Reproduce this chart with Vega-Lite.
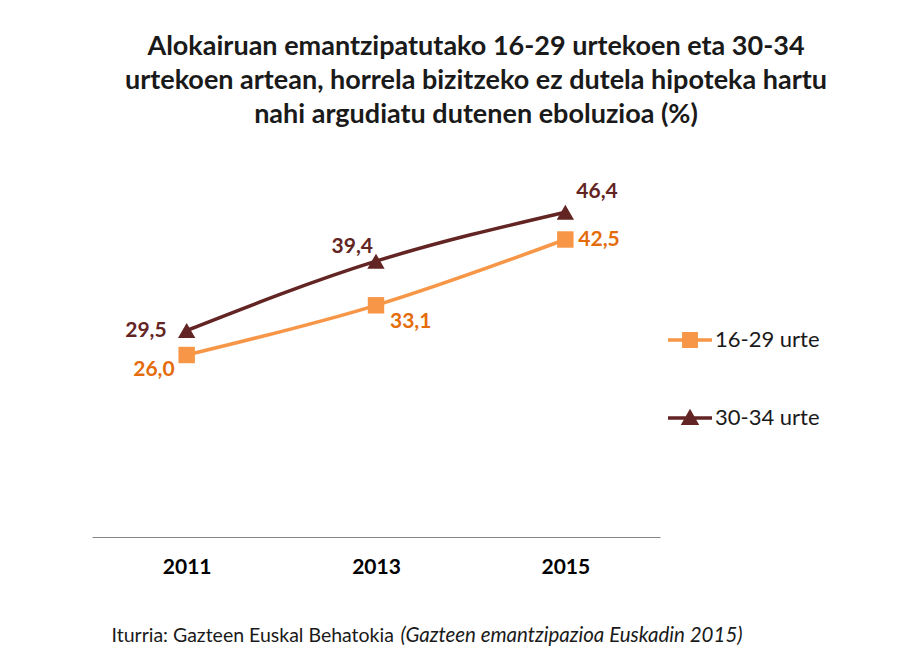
{
  "$schema": "https://vega.github.io/schema/vega-lite/v6.json",
  "width": 568,
  "height": 350,
  "autosize": {"type": "none"},
  "padding": {"left": 92, "top": 187, "right": 239, "bottom": 129},
  "background": "white",
  "config": {
    "view": {"stroke": null},
    "font": "Lato",
    "locale": {"number": {"decimal": ",", "thousands": ".", "grouping": [3], "currency": ["", " €"]}}
  },
  "title": {
    "text": ["Alokairuan emantzipatutako 16-29 urtekoen eta 30-34", "urtekoen artean, horrela bizitzeko ez dutela hipoteka hartu", "nahi argudiatu dutenen eboluzioa (%)"],
    "font": "Lato",
    "fontSize": 27,
    "fontWeight": "bold",
    "color": "#1a1a1a",
    "lineHeight": 34,
    "anchor": "middle",
    "frame": "group",
    "dx": 100,
    "offset": 52
  },
  "data": {
    "values": [
      {"year": "2011", "series": "16-29 urte", "value": 26.0},
      {"year": "2013", "series": "16-29 urte", "value": 33.1},
      {"year": "2015", "series": "16-29 urte", "value": 42.5},
      {"year": "2011", "series": "30-34 urte", "value": 29.5},
      {"year": "2013", "series": "30-34 urte", "value": 39.4},
      {"year": "2015", "series": "30-34 urte", "value": 46.4}
    ]
  },
  "encoding": {
    "x": {
      "field": "year", "type": "ordinal",
      "scale": {"type": "point", "padding": 0.5},
      "axis": {
        "title": "Iturria: Gazteen Euskal Behatokia",
        "titleFont": "Lato", "titleFontSize": 19.5, "titleFontWeight": "normal", "titleColor": "#1a1a1a",
        "titleAlign": "left", "titleBaseline": "alphabetic", "titleAnchor": "start",
        "titleX": 19, "titleY": 104,
        "labelAngle": 0, "labelFont": "Lato", "labelFontSize": 21, "labelFontWeight": "bold", "labelColor": "#000000",
        "labelPadding": 19, "ticks": false, "domainColor": "#868686", "domainWidth": 1, "grid": false
      }
    },
    "y": {
      "field": "value", "type": "quantitative",
      "scale": {"domain": [0, 50], "nice": false},
      "axis": {
        "title": "(Gazteen emantzipazioa Euskadin 2015)",
        "titleFont": "Lato", "titleFontSize": 20.5, "titleFontWeight": "normal", "titleFontStyle": "italic", "titleColor": "#1a1a1a",
        "titleAngle": 0, "titleAlign": "left", "titleBaseline": "alphabetic", "titleAnchor": "start",
        "titleX": 308, "titleY": 454,
        "labels": false, "ticks": false, "domain": false, "grid": false
      }
    },
    "color": {
      "field": "series", "type": "nominal",
      "scale": {"domain": ["16-29 urte", "30-34 urte"], "range": ["#F79646", "#632523"]},
      "legend": {
        "title": null, "orient": "none", "legendX": 576, "legendY": 131,
        "symbolSize": 1936, "symbolStrokeWidth": 0, "symbolOpacity": 1,
        "labelFont": "Lato", "labelFontSize": 22, "labelColor": "#1a1a1a", "labelOffset": 3,
        "rowPadding": 45,
        "encode": {"symbols": {"update": {
          "shape": {"signal": "datum.value === '16-29 urte' ? 'M-1,-0.08H1V0.08H-1Z M-0.36,-0.36H0.36V0.36H-0.36Z' : 'M-1,-0.08H1V0.08H-1Z M0,-0.42L0.42,0.32H-0.42Z'"},
          "strokeWidth": {"value": 0}
        }}}
      }
    }
  },
  "layer": [
    {"mark": {"type": "line", "interpolate": "monotone", "strokeWidth": 3.5}},
    {"transform": [{"filter": "datum.series === '16-29 urte'"}], "mark": {"type": "point", "shape": "square", "filled": true, "size": 270, "opacity": 1}},
    {"transform": [{"filter": "datum.series === '30-34 urte'"}], "mark": {"type": "point", "shape": "triangle-up", "filled": true, "size": 300, "opacity": 1}},
    {"transform": [{"filter": "datum.series === '16-29 urte' && datum.year === '2011'"}], "mark": {"type": "text", "align": "right", "dx": -12, "dy": 15, "fontSize": 21, "fontWeight": "bold"}, "encoding": {"text": {"field": "value", "type": "quantitative", "format": ".1f"}, "color": {"value": "#E46C0A"}}},
    {"transform": [{"filter": "datum.series === '16-29 urte' && datum.year === '2013'"}], "mark": {"type": "text", "align": "left", "dx": 14, "dy": 17, "fontSize": 21, "fontWeight": "bold"}, "encoding": {"text": {"field": "value", "type": "quantitative", "format": ".1f"}, "color": {"value": "#E46C0A"}}},
    {"transform": [{"filter": "datum.series === '16-29 urte' && datum.year === '2015'"}], "mark": {"type": "text", "align": "left", "dx": 13, "dy": 0, "fontSize": 21, "fontWeight": "bold"}, "encoding": {"text": {"field": "value", "type": "quantitative", "format": ".1f"}, "color": {"value": "#E46C0A"}}},
    {"transform": [{"filter": "datum.series === '30-34 urte' && datum.year === '2011'"}], "mark": {"type": "text", "align": "right", "dx": -20, "dy": 0, "fontSize": 21, "fontWeight": "bold"}, "encoding": {"text": {"field": "value", "type": "quantitative", "format": ".1f"}, "color": {"value": "#632523"}}},
    {"transform": [{"filter": "datum.series === '30-34 urte' && datum.year === '2013'"}], "mark": {"type": "text", "align": "right", "dx": -3, "dy": -14, "fontSize": 21, "fontWeight": "bold"}, "encoding": {"text": {"field": "value", "type": "quantitative", "format": ".1f"}, "color": {"value": "#632523"}}},
    {"transform": [{"filter": "datum.series === '30-34 urte' && datum.year === '2015'"}], "mark": {"type": "text", "align": "left", "dx": 11, "dy": -20, "fontSize": 21, "fontWeight": "bold"}, "encoding": {"text": {"field": "value", "type": "quantitative", "format": ".1f"}, "color": {"value": "#632523"}}}
  ]
}
